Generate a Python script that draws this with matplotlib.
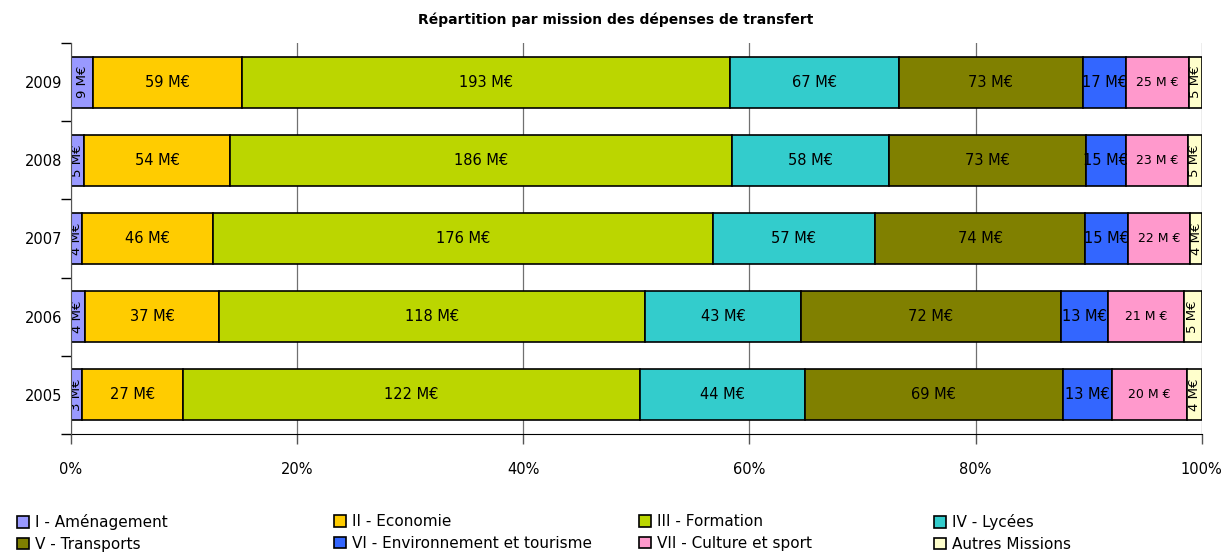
import matplotlib
matplotlib.use("Agg")
import matplotlib.pyplot as plt
import numpy as np

years = ["2009", "2008", "2007", "2006", "2005"]
missions = ["I - Aménagement", "II - Economie", "III - Formation", "IV - Lycées",
            "V - Transports", "VI - Environnement et tourisme", "VII - Culture et sport",
            "Autres Missions"]
colors = ["#9999FF", "#FFCC00", "#BBD600", "#33CCCC", "#808000", "#3366FF", "#FF99CC", "#FFFFCC"]

# values in M€ per mission, one list per mission, ordered as years
v_I = [9, 5, 4, 4, 3]
v_II = [59, 54, 46, 37, 27]
v_III = [193, 186, 176, 118, 122]
v_IV = [67, 58, 57, 43, 44]
v_V = [73, 73, 74, 72, 69]
v_VI = [17, 15, 15, 13, 13]
v_VII = [25, 23, 22, 21, 20]
v_aut = [5, 5, 4, 5, 4]
series = [v_I, v_II, v_III, v_IV, v_V, v_VI, v_VII, v_aut]

xticks = [0, 20, 40, 60, 80, 100]
xticklabels = ["0%", "20%", "40%", "60%", "80%", "100%"]

plt.rcParams['font.family'] = ['DejaVu Sans']
fig = plt.figure(figsize=(12.31, 5.55), dpi=100)
ax = fig.add_axes([70.7/1231, 1-434/555, (1201.7-70.7)/1231, (434-43)/555])

data = np.array(series, dtype=float)
totals = data.sum(axis=0)
pct = data / totals * 100
ypos = np.arange(len(years))
left = np.zeros(len(years))
for i in range(len(missions)):
    bars = ax.barh(ypos, pct[i], left=left, height=0.65, color=colors[i], edgecolor="black",
                   linewidth=1.2, label=missions[i], zorder=3)
    for j in range(len(years)):
        cx = left[j] + pct[i][j] / 2
        txt = f"{int(data[i][j])} M€"
        if i in (0, 7):
            t = ax.text(cx, ypos[j], txt, rotation=90, ha="center", va="center",
                        fontsize=9.5, zorder=4, clip_on=True)
            t.set_clip_path(bars[j])
        elif i == 6:
            ax.text(cx, ypos[j], txt.replace("M€", "M €"), ha="center", va="center",
                    fontsize=9, zorder=4)
        else:
            ax.text(cx, ypos[j], txt, ha="center", va="center", fontsize=10.5, zorder=4)
    left += pct[i]

ax.set_xlim(0, 100)
ax.set_ylim(len(years) - 0.5, -0.5)
ax.set_yticks(np.arange(-0.5, len(years), 1), minor=False)
ax.set_yticklabels([])
ax.set_yticks(ypos, minor=True)
ax.set_yticklabels(years, minor=True, fontsize=10.5)
ax.tick_params(axis="y", which="minor", length=0, pad=6)
ax.tick_params(axis="y", which="major", length=7, width=1, color="black")
ax.set_xticks(xticks)
ax.set_xticklabels(xticklabels, fontsize=10.5)
ax.tick_params(axis="x", length=7, width=1, color="#555555", pad=13)
ax.grid(axis="x", color="#707070", linewidth=0.9, zorder=0)
ax.spines["top"].set_visible(False)
ax.spines["right"].set_visible(False)
ax.spines["left"].set_color("#555555")
ax.spines["bottom"].set_color("black")
ax.spines["left"].set_zorder(5)

fig.text(0.5, 1 - 20/555, "Répartition par mission des dépenses de transfert",
         ha="center", va="center", fontsize=10, fontweight="bold")

handles, labels = ax.get_legend_handles_labels()
col_x = [14/1231, 331/1231, 636/1231, 931/1231]
for c in range(4):
    hs = [handles[c], handles[c + 4]]
    ls = [labels[c], labels[c + 4]]
    fig.legend(hs, ls, loc="upper left", bbox_to_anchor=(col_x[c], 1 - 511/555),
               frameon=False, fontsize=11, handlelength=0.8, handleheight=0.8,
               handletextpad=0.4, labelspacing=0.45, borderpad=0.2, borderaxespad=0)

fig.savefig("out.png", dpi=100)
